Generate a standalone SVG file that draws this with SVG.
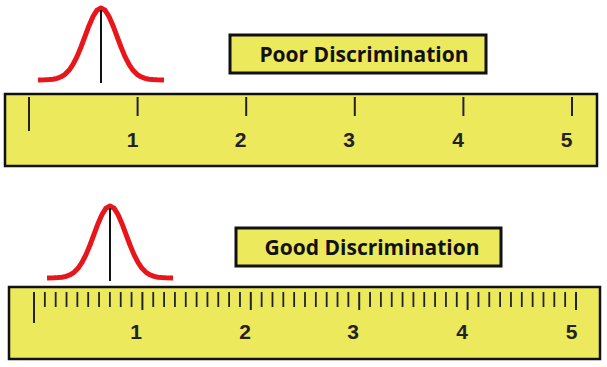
<svg xmlns="http://www.w3.org/2000/svg" xmlns:xlink="http://www.w3.org/1999/xlink" width="607" height="367" viewBox="0 0 607 367">
<style>
.ruler{fill:#EDE95C;stroke:#111;stroke-width:2.5}
.lbox{fill:#EDE95C;stroke:#111;stroke-width:3}
.ltext{font-family:"Open Sans","Liberation Sans",sans-serif;font-weight:bold;font-size:21px;fill:#111;text-anchor:middle}
.num{font-family:"Liberation Sans",Arial,sans-serif;font-weight:bold;font-size:21px;fill:#222;text-anchor:middle}
.tick{stroke:#222;stroke-width:2}
.stick{stroke:#222;stroke-width:1.8}
.bell{fill:none;stroke:#E8161B;stroke-width:5;stroke-linejoin:round;stroke-linecap:butt}
.axis{stroke:#111;stroke-width:2}
</style>
<defs>
<path id="bellcurve" class="bell" d="M-63,0 L-56,-0.16 L-52,-0.4 L-48,-0.8 L-44,-1.6 L-40,-3.2 L-36,-5.7 L-32,-9.7 L-28,-15.6 L-24,-23.4 L-20,-33 L-16,-43.7 L-12,-54.3 L-8,-63.5 L-4,-69.8 L0,-72 L4,-69.8 L8,-63.5 L12,-54.3 L16,-43.7 L20,-33 L24,-23.4 L28,-15.6 L32,-9.7 L36,-5.7 L40,-3.2 L44,-1.6 L48,-0.8 L52,-0.4 L56,-0.16 L63,0"/>
</defs>

<g id="poor-curve" transform="translate(101,80)">
<use xlink:href="#bellcurve"/>
<line class="axis" x1="0" y1="-70" x2="0" y2="3"/>
</g>

<g id="poor-label">
<rect class="lbox" x="230" y="35" width="256" height="38"/>
<text class="ltext" x="364" y="62">Poor Discrimination</text>
</g>

<g id="poor-ruler">
<rect class="ruler" x="5" y="94" width="592" height="72"/>
<line class="tick" x1="29" y1="97" x2="29" y2="131"/>
<line class="tick" x1="137.6" y1="97" x2="137.6" y2="116"/>
<line class="tick" x1="246.2" y1="97" x2="246.2" y2="116"/>
<line class="tick" x1="354.8" y1="97" x2="354.8" y2="116"/>
<line class="tick" x1="463.4" y1="97" x2="463.4" y2="116"/>
<line class="tick" x1="572" y1="97" x2="572" y2="116"/>
<text class="num" x="132.5" y="147">1</text>
<text class="num" x="240.5" y="147">2</text>
<text class="num" x="349" y="147">3</text>
<text class="num" x="458" y="147">4</text>
<text class="num" x="566.5" y="147">5</text>
</g>

<g id="good-curve" transform="translate(110,278)">
<use xlink:href="#bellcurve"/>
<line class="axis" x1="0" y1="-70" x2="0" y2="3"/>
</g>

<g id="good-label">
<rect class="lbox" x="236" y="228" width="265" height="38"/>
<text class="ltext" x="372" y="255">Good Discrimination</text>
</g>

<g id="good-ruler">
<rect class="ruler" x="9" y="287" width="591" height="72"/>
<line class="tick" x1="34" y1="292" x2="34" y2="323"/>
<g class="stick">
<line x1="44.84" y1="292" x2="44.84" y2="307"/>
<line x1="55.68" y1="292" x2="55.68" y2="307"/>
<line x1="66.52" y1="292" x2="66.52" y2="307"/>
<line x1="77.36" y1="292" x2="77.36" y2="307"/>
<line x1="88.2" y1="292" x2="88.2" y2="307"/>
<line x1="99.04" y1="292" x2="99.04" y2="307"/>
<line x1="109.88" y1="292" x2="109.88" y2="307"/>
<line x1="120.72" y1="292" x2="120.72" y2="307"/>
<line x1="131.56" y1="292" x2="131.56" y2="307"/>
<line x1="153.24" y1="292" x2="153.24" y2="307"/>
<line x1="164.08" y1="292" x2="164.08" y2="307"/>
<line x1="174.92" y1="292" x2="174.92" y2="307"/>
<line x1="185.76" y1="292" x2="185.76" y2="307"/>
<line x1="196.6" y1="292" x2="196.6" y2="307"/>
<line x1="207.44" y1="292" x2="207.44" y2="307"/>
<line x1="218.28" y1="292" x2="218.28" y2="307"/>
<line x1="229.12" y1="292" x2="229.12" y2="307"/>
<line x1="239.96" y1="292" x2="239.96" y2="307"/>
<line x1="261.64" y1="292" x2="261.64" y2="307"/>
<line x1="272.48" y1="292" x2="272.48" y2="307"/>
<line x1="283.32" y1="292" x2="283.32" y2="307"/>
<line x1="294.16" y1="292" x2="294.16" y2="307"/>
<line x1="305" y1="292" x2="305" y2="307"/>
<line x1="315.84" y1="292" x2="315.84" y2="307"/>
<line x1="326.68" y1="292" x2="326.68" y2="307"/>
<line x1="337.52" y1="292" x2="337.52" y2="307"/>
<line x1="348.36" y1="292" x2="348.36" y2="307"/>
<line x1="370.04" y1="292" x2="370.04" y2="307"/>
<line x1="380.88" y1="292" x2="380.88" y2="307"/>
<line x1="391.72" y1="292" x2="391.72" y2="307"/>
<line x1="402.56" y1="292" x2="402.56" y2="307"/>
<line x1="413.4" y1="292" x2="413.4" y2="307"/>
<line x1="424.24" y1="292" x2="424.24" y2="307"/>
<line x1="435.08" y1="292" x2="435.08" y2="307"/>
<line x1="445.92" y1="292" x2="445.92" y2="307"/>
<line x1="456.76" y1="292" x2="456.76" y2="307"/>
<line x1="478.44" y1="292" x2="478.44" y2="307"/>
<line x1="489.28" y1="292" x2="489.28" y2="307"/>
<line x1="500.12" y1="292" x2="500.12" y2="307"/>
<line x1="510.96" y1="292" x2="510.96" y2="307"/>
<line x1="521.8" y1="292" x2="521.8" y2="307"/>
<line x1="532.64" y1="292" x2="532.64" y2="307"/>
<line x1="543.48" y1="292" x2="543.48" y2="307"/>
<line x1="554.32" y1="292" x2="554.32" y2="307"/>
<line x1="565.16" y1="292" x2="565.16" y2="307"/>
</g>
<line class="tick" x1="142.4" y1="292" x2="142.4" y2="310"/>
<line class="tick" x1="250.8" y1="292" x2="250.8" y2="310"/>
<line class="tick" x1="359.2" y1="292" x2="359.2" y2="310"/>
<line class="tick" x1="467.6" y1="292" x2="467.6" y2="310"/>
<line class="tick" x1="576" y1="292" x2="576" y2="310"/>
<text class="num" x="136" y="339">1</text>
<text class="num" x="245" y="339">2</text>
<text class="num" x="353" y="339">3</text>
<text class="num" x="462" y="339">4</text>
<text class="num" x="571.5" y="339">5</text>
</g>
</svg>
